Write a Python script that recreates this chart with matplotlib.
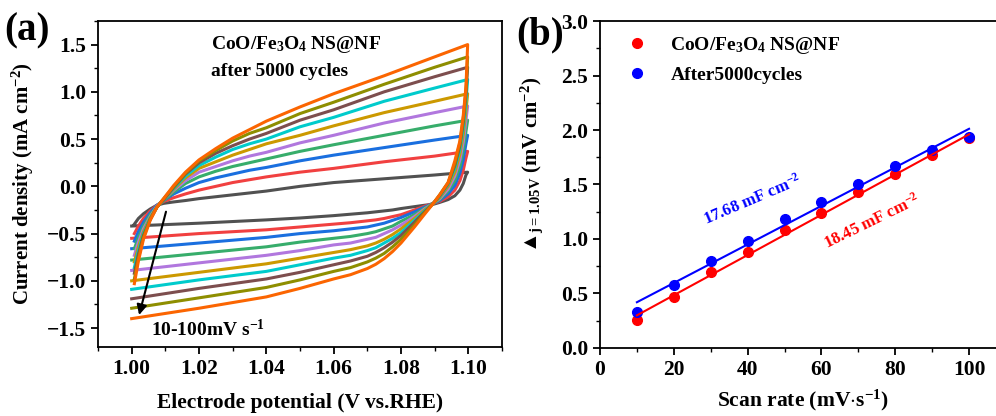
import numpy as np
import matplotlib.pyplot as plt
from matplotlib.ticker import MultipleLocator

plt.rcParams['font.family'] = ['Liberation Serif', 'DejaVu Serif']
plt.rcParams['font.weight'] = 'bold'
plt.rcParams['mathtext.fontset'] = 'custom'
plt.rcParams['mathtext.rm'] = 'Liberation Serif:bold'
plt.rcParams['mathtext.bf'] = 'Liberation Serif:bold'
plt.rcParams['mathtext.it'] = 'Liberation Serif:bold:italic'

# ---- panel (a): CV curves, 10..100 mV/s ----
colors = ['#515151', '#F14040', '#1A6FDF', '#37AD6B', '#B177DE',
          '#CC9900', '#00CBCC', '#7D4E4E', '#8E8E00', '#FB6501']

# anodic sweep
v_up = [1.0008, 1.002, 1.0035, 1.0055, 1.0075, 1.0095, 1.0125, 1.016, 1.02,
        1.025, 1.03, 1.035, 1.04, 1.05, 1.06, 1.075, 1.09, 1.0998]
i_up = [
    [-0.40, -0.34, -0.29, -0.24, -0.20, -0.18, -0.165, -0.15, -0.13, -0.11, -0.09, -0.07, -0.05, 0.00, 0.04, 0.08, 0.12, 0.15],
    [-0.50, -0.42, -0.34, -0.26, -0.20, -0.16, -0.12, -0.08, -0.04, 0.00, 0.04, 0.07, 0.10, 0.15, 0.19, 0.26, 0.32, 0.37],
    [-0.58, -0.48, -0.38, -0.28, -0.20, -0.15, -0.08, -0.02, 0.04, 0.09, 0.13, 0.17, 0.20, 0.27, 0.33, 0.41, 0.49, 0.54],
    [-0.66, -0.54, -0.42, -0.30, -0.21, -0.15, -0.06, 0.03, 0.10, 0.16, 0.21, 0.25, 0.29, 0.37, 0.44, 0.54, 0.64, 0.70],
    [-0.73, -0.59, -0.45, -0.32, -0.21, -0.14, -0.04, 0.06, 0.15, 0.21, 0.27, 0.32, 0.36, 0.46, 0.54, 0.67, 0.78, 0.85],
    [-0.80, -0.64, -0.48, -0.33, -0.22, -0.14, -0.03, 0.09, 0.19, 0.26, 0.33, 0.39, 0.45, 0.54, 0.64, 0.78, 0.90, 0.98],
    [-0.86, -0.68, -0.50, -0.34, -0.22, -0.14, -0.02, 0.11, 0.22, 0.31, 0.39, 0.45, 0.50, 0.63, 0.73, 0.90, 1.04, 1.13],
    [-0.92, -0.72, -0.52, -0.35, -0.22, -0.14, -0.01, 0.13, 0.25, 0.35, 0.43, 0.50, 0.56, 0.70, 0.81, 1.00, 1.16, 1.26],
    [-0.98, -0.76, -0.54, -0.35, -0.22, -0.13, 0.00, 0.14, 0.27, 0.38, 0.48, 0.56, 0.62, 0.77, 0.89, 1.08, 1.26, 1.37],
    [-1.03, -0.79, -0.56, -0.36, -0.22, -0.13, 0.01, 0.15, 0.28, 0.40, 0.51, 0.60, 0.69, 0.84, 0.98, 1.17, 1.37, 1.50],
]
# cathodic sweep
v_dn = [1.0998, 1.0993, 1.0985, 1.0975, 1.096, 1.094, 1.0915, 1.0896, 1.087,
        1.084, 1.08, 1.0775, 1.075, 1.0725, 1.07, 1.065, 1.06, 1.05, 1.04,
        1.02, 1.00]
i_dn = [
    [0.15, 0.12, 0.03, -0.04, -0.10, -0.14, -0.17, -0.19, -0.20, -0.215, -0.235, -0.25, -0.26, -0.27, -0.28, -0.295, -0.31, -0.335, -0.355, -0.39, -0.42],
    [0.37, 0.30, 0.17, 0.06, -0.04, -0.11, -0.16, -0.18, -0.21, -0.25, -0.30, -0.32, -0.34, -0.355, -0.365, -0.385, -0.40, -0.43, -0.46, -0.50, -0.55],
    [0.54, 0.45, 0.28, 0.14, 0.01, -0.08, -0.15, -0.18, -0.22, -0.27, -0.33, -0.36, -0.39, -0.41, -0.43, -0.45, -0.47, -0.50, -0.54, -0.60, -0.66],
    [0.70, 0.58, 0.38, 0.21, 0.06, -0.05, -0.14, -0.18, -0.23, -0.30, -0.37, -0.42, -0.45, -0.48, -0.50, -0.53, -0.55, -0.59, -0.64, -0.71, -0.78],
    [0.85, 0.70, 0.47, 0.28, 0.11, -0.03, -0.13, -0.18, -0.24, -0.32, -0.41, -0.46, -0.50, -0.54, -0.56, -0.60, -0.62, -0.68, -0.73, -0.81, -0.89],
    [0.98, 0.80, 0.55, 0.34, 0.15, 0.00, -0.12, -0.18, -0.25, -0.34, -0.45, -0.51, -0.56, -0.60, -0.63, -0.67, -0.70, -0.76, -0.82, -0.91, -1.00],
    [1.13, 0.90, 0.62, 0.39, 0.19, 0.02, -0.11, -0.18, -0.26, -0.36, -0.49, -0.55, -0.60, -0.65, -0.68, -0.73, -0.76, -0.83, -0.90, -0.99, -1.09],
    [1.26, 0.98, 0.68, 0.43, 0.22, 0.03, -0.10, -0.18, -0.27, -0.38, -0.52, -0.59, -0.65, -0.70, -0.74, -0.79, -0.83, -0.91, -0.98, -1.08, -1.19],
    [1.37, 1.02, 0.72, 0.46, 0.24, 0.04, -0.09, -0.18, -0.28, -0.41, -0.56, -0.64, -0.71, -0.76, -0.80, -0.86, -0.90, -0.99, -1.07, -1.18, -1.29],
    [1.50, 1.05, 0.75, 0.48, 0.27, 0.04, -0.09, -0.18, -0.295, -0.43, -0.60, -0.69, -0.765, -0.825, -0.87, -0.935, -0.98, -1.08, -1.17, -1.29, -1.40],
]

# ---- panel (b): capacitive current vs scan rate ----
scan_rate = [10, 20, 30, 40, 50, 60, 70, 80, 90, 100]
dj_fresh = [0.26, 0.47, 0.70, 0.88, 1.08, 1.24, 1.43, 1.60, 1.77, 1.93]
dj_cycled = [0.33, 0.58, 0.80, 0.98, 1.18, 1.34, 1.50, 1.67, 1.82, 1.94]
fit_fresh = (0.01845, 0.115)    # slope, intercept
fit_cycled = (0.01768, 0.243)

fig = plt.figure(figsize=(9.96, 4.16), dpi=100)
ax1 = fig.add_axes([0.0984, 0.1659, 0.4056, 0.7837])
ax2 = fig.add_axes([0.6024, 0.1635, 0.4076, 0.786])

for k in range(len(colors)):
    v = v_up + v_dn
    i = i_up[k] + i_dn[k]
    ax1.plot(v, i, color=colors[k], lw=2.2, solid_joinstyle='round')

ax1.annotate('', xy=(1.002, -1.39), xytext=(1.0104, -0.24),
             arrowprops=dict(arrowstyle='-|>', color='black', lw=1.5,
                             mutation_scale=15))
ax1.text(1.0056, -1.52, r'10-100mV s$^{\mathregular{-1}}$', fontsize=14,
         fontweight='bold', va='center', ha='left')
ax1.text(1.0237, 1.50, r'CoO/Fe$_{\mathregular{3}}$O$_{\mathregular{4}}$ NS@NF',
         fontsize=14, fontweight='bold', va='center', ha='left')
ax1.text(1.0237, 1.22, 'after 5000 cycles', fontsize=14, fontweight='bold',
         va='center', ha='left')

ax1.set_xlim(0.99, 1.11)
ax1.set_ylim(-1.70, 1.75)
ax1.set_xticks([1.00, 1.02, 1.04, 1.06, 1.08, 1.10])
ax1.xaxis.set_minor_locator(MultipleLocator(0.01))
ax1.set_yticks([-1.5, -1.0, -0.5, 0.0, 0.5, 1.0, 1.5])
ax1.yaxis.set_minor_locator(MultipleLocator(0.25))
ax1.set_xlabel('Electrode potential (V vs.RHE)', fontsize=15.5, fontweight='bold',
               labelpad=10)
ax1.set_ylabel(r'Current density (mA cm$^{\mathregular{-2}}$)', fontsize=15,
               fontweight='bold', labelpad=8)

ax2.plot(scan_rate, dj_fresh, 'o', color='#FF0000', ms=7,
         label=r'CoO/Fe$_{\mathregular{3}}$O$_{\mathregular{4}}$ NS@NF')
ax2.plot(scan_rate, dj_cycled, 'o', color='#0000FF', ms=7, label='After5000cycles')
xs = np.array([scan_rate[0], scan_rate[-1]])
ax2.plot(xs, fit_fresh[0] * xs + fit_fresh[1], color='#FF0000', lw=1.5)
ax2.plot(xs, fit_cycled[0] * xs + fit_cycled[1], color='#0000FF', lw=1.5)
ax2.text(41.2, 1.36, r'17.68 mF cm$^{\mathregular{-2}}$', color='#0000FF',
         fontsize=12, fontweight='bold', rotation=23, ha='center', va='center')
ax2.text(73.7, 1.16, r'18.45 mF cm$^{\mathregular{-2}}$', color='#FF0000',
         fontsize=12, fontweight='bold', rotation=26, ha='center', va='center')
ax2.legend(loc='upper left', bbox_to_anchor=(0.02, 1.01), frameon=False,
           handlelength=1.2, handletextpad=1.1, labelspacing=0.5,
           prop={'weight': 'bold', 'size': 14})

ax2.set_xlim(0, 110)
ax2.set_ylim(0, 3.0)
ax2.set_xticks([0, 20, 40, 60, 80, 100])
ax2.xaxis.set_minor_locator(MultipleLocator(10))
ax2.set_yticks([0.0, 0.5, 1.0, 1.5, 2.0, 2.5, 3.0])
ax2.yaxis.set_minor_locator(MultipleLocator(0.25))
ax2.set_xlabel(r'Scan rate (mV$\cdot$s$^{\mathregular{-1}}$)', fontsize=15.5,
               fontweight='bold', labelpad=6)
ax2.set_ylabel(r'▲$_{\mathregular{j=1.05V}}$ (mV cm$^{\mathregular{-2}}$)',
               fontsize=15, fontweight='bold')
ax2.yaxis.set_label_coords(-0.135, 0.56)

for ax in (ax1, ax2):
    for s in ax.spines.values():
        s.set_linewidth(1.3)
    ax.tick_params(which='major', direction='out', length=5, width=1.3,
                   labelsize=15.5)
    ax.tick_params(which='minor', direction='out', length=3, width=1.0)
    for lab in ax.get_xticklabels() + ax.get_yticklabels():
        lab.set_fontweight('bold')

fig.text(0.004, 0.925, '(a)', fontsize=28, fontweight='bold', va='center')
fig.text(0.518, 0.915, '(b)', fontsize=28, fontweight='bold', va='center')

fig.savefig('out.png', dpi=100)
